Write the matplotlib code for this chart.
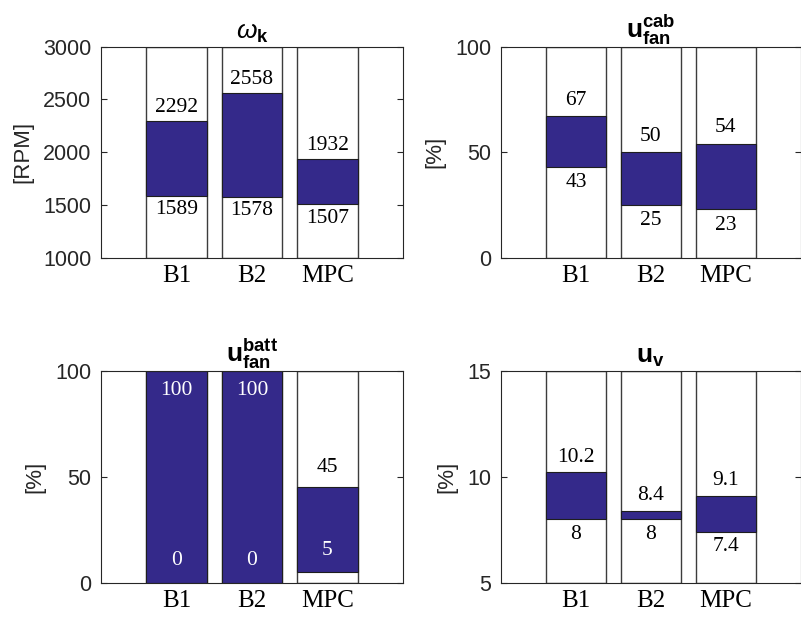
import matplotlib
matplotlib.use("Agg")
import matplotlib.pyplot as plt

plt.rcParams['mathtext.fontset'] = 'custom'
plt.rcParams['mathtext.bf'] = 'Liberation Sans:bold'
plt.rcParams['mathtext.it'] = 'Liberation Sans:italic'
plt.rcParams['mathtext.rm'] = 'Liberation Sans'
plt.rcParams['font.family'] = ['Liberation Sans', 'DejaVu Sans']

# Controller labels
categories = ["B1", "B2", "MPC"]

# Compressor speed range [RPM]
omega_low = [1589, 1578, 1507]
omega_high = [2292, 2558, 1932]

# Cabin fan command range [%]
cab_low = [43, 25, 23]
cab_high = [67, 50, 54]

# Battery fan command range [%]
batt_low = [0, 0, 5]
batt_high = [100, 100, 45]

# Valve command range [%]
uv_low = [8, 8, 7.4]
uv_high = [10.2, 8.4, 9.1]

# Axis ticks
omega_ticks = [1000, 1500, 2000, 2500, 3000]
pct_ticks = [0, 50, 100]
uv_ticks = [5, 10, 15]

NAVY = "#34298a"
DARK = "#262626"
W, H = 801, 617

fig = plt.figure(figsize=(W / 100, H / 100), dpi=100)


def make_axes(x0, y0, x1, y1):
    return fig.add_axes([x0 / W, 1 - y1 / H, (x1 - x0) / W, (y1 - y0) / H])


panels = [
    dict(rect=(101, 46.7, 403, 257.7), low=omega_low, high=omega_high,
         ticks=omega_ticks, title=r"$\omega_{\mathbf{k}}$", ylabel="[RPM]", off=14),
    dict(rect=(501, 46.7, 800.5, 257.7), low=cab_low, high=cab_high,
         ticks=pct_ticks, title=r"$\mathbf{u}^{\mathbf{cab}}_{\mathbf{fan}}$", ylabel="[%]", off=16),
    dict(rect=(101, 370.7, 403, 582.7), low=batt_low, high=batt_high,
         ticks=pct_ticks, title=r"$\mathbf{u}^{\mathbf{batt}}_{\mathbf{fan}}$", ylabel="[%]", off=20),
    dict(rect=(501, 370.7, 800.5, 582.7), low=uv_low, high=uv_high,
         ticks=uv_ticks, title=r"$\mathbf{u}_{\mathbf{v}}$", ylabel="[%]", off=15),
]

for p in panels:
    ax = make_axes(*p["rect"])
    ymin, ymax = p["ticks"][0], p["ticks"][-1]
    xs = list(range(1, len(categories) + 1))
    ax.set_xlim(0, len(categories) + 1)
    ax.set_ylim(ymin, ymax)

    # full-height white columns
    ax.bar(xs, [ymax - ymin] * len(xs), bottom=ymin, width=0.8,
           color="white", edgecolor="#3c3c3c", linewidth=1.0, zorder=1)
    # operating range
    heights = [h - l for l, h in zip(p["low"], p["high"])]
    ax.bar(xs, heights, bottom=p["low"], width=0.8, color=NAVY,
           edgecolor="#1e1e1e", linewidth=0.8, zorder=2)

    span = ymax - ymin
    for x, lo, hi in zip(xs, p["low"], p["high"]):
        off = p["off"]
        # upper value
        if hi >= ymax - 1e-9:
            ax.annotate(f"{hi:g}", (x, hi), xytext=(0, -off), textcoords="offset pixels",
                        ha="center", va="center", color="white",
                        fontsize=15.5, family="Liberation Serif", zorder=4)
        else:
            ax.annotate(f"{hi:g}", (x, hi), xytext=(0, off), textcoords="offset pixels",
                        ha="center", va="center", color="black",
                        fontsize=15.5, family="Liberation Serif", zorder=4)
        # lower value
        if lo - ymin < 0.08 * span:
            ax.annotate(f"{lo:g}", (x, lo), xytext=(0, off + 2), textcoords="offset pixels",
                        ha="center", va="center", color="white",
                        fontsize=15.5, family="Liberation Serif", zorder=4)
        else:
            ax.annotate(f"{lo:g}", (x, lo), xytext=(0, -off), textcoords="offset pixels",
                        ha="center", va="center", color="black",
                        fontsize=15.5, family="Liberation Serif", zorder=4)

    ax.set_yticks(p["ticks"])
    ax.set_yticklabels([f"{t:g}" for t in p["ticks"]])
    ax.set_xticks(xs)
    ax.set_xticklabels(categories, family="Liberation Serif", fontsize=18)
    ax.tick_params(axis="y", direction="in", length=4, width=0.8, right=True,
                   labelsize=15.5, pad=7, color=DARK, labelcolor=DARK)
    ax.tick_params(axis="x", length=0, pad=5, labelcolor="black")
    for s in ax.spines.values():
        s.set_color(DARK)
        s.set_linewidth(0.8)
        s.set_zorder(5)
    ax.set_ylabel(p["ylabel"], fontsize=16, color=DARK, labelpad=7)
    ax.set_title(p["title"], fontsize=19, pad=6, color="black")

fig.savefig("out.png", dpi=100)
